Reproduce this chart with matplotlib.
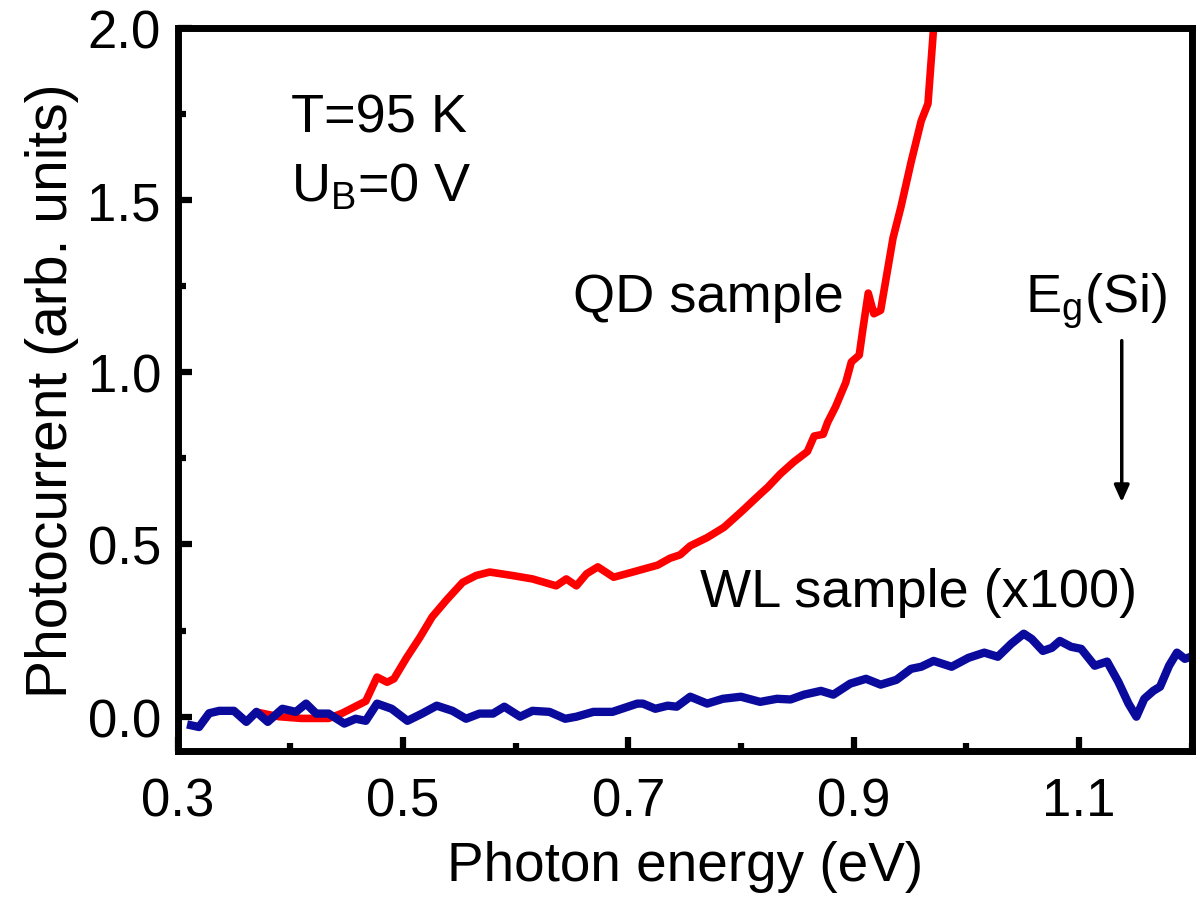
import matplotlib
matplotlib.use('Agg')
import matplotlib.pyplot as plt

plt.rcParams['font.family'] = ['Liberation Sans', 'DejaVu Sans']
plt.rcParams['mathtext.default'] = 'regular'

# QD sample photocurrent (red)
qd_energy = [0.375, 0.39, 0.41, 0.434, 0.446, 0.458, 0.467, 0.477, 0.486, 0.492,
             0.503, 0.515, 0.526, 0.539, 0.553, 0.565, 0.577, 0.597, 0.615, 0.636,
             0.645, 0.654, 0.663, 0.673, 0.687, 0.704, 0.726, 0.737, 0.746, 0.755,
             0.77, 0.785, 0.80, 0.815, 0.824, 0.835, 0.847, 0.859, 0.865, 0.873,
             0.877, 0.884, 0.893, 0.898, 0.905, 0.908, 0.913, 0.918, 0.924, 0.935,
             0.942, 0.951, 0.96, 0.966, 0.971]
qd_current = [0.01, 0.0, -0.005, -0.005, 0.01, 0.03, 0.045, 0.115, 0.10, 0.11,
              0.17, 0.23, 0.29, 0.34, 0.39, 0.41, 0.42, 0.41, 0.40, 0.38,
              0.40, 0.38, 0.415, 0.435, 0.405, 0.42, 0.44, 0.46, 0.47, 0.496,
              0.52, 0.55, 0.594, 0.64, 0.667, 0.705, 0.74, 0.77, 0.815, 0.82,
              0.855, 0.90, 0.97, 1.03, 1.05, 1.12, 1.23, 1.17, 1.18, 1.39,
              1.48, 1.61, 1.73, 1.78, 2.0]

# WL sample photocurrent x100 (blue)
wl_energy = [0.312, 0.319, 0.328, 0.337, 0.35, 0.361, 0.37, 0.38, 0.393, 0.405,
             0.414, 0.423, 0.434, 0.448, 0.458, 0.467, 0.477, 0.49, 0.504, 0.517,
             0.53, 0.544, 0.556, 0.568, 0.58, 0.59, 0.604, 0.615, 0.63, 0.644,
             0.654, 0.669, 0.686, 0.708, 0.713, 0.724, 0.735, 0.743, 0.755, 0.77,
             0.784, 0.80, 0.817, 0.832, 0.844, 0.856, 0.871, 0.882, 0.897, 0.911,
             0.924, 0.938, 0.951, 0.96, 0.971, 0.987, 1.002, 1.016, 1.028, 1.04,
             1.051, 1.058, 1.068, 1.076, 1.083, 1.093, 1.102, 1.114, 1.125, 1.135,
             1.144, 1.151, 1.158, 1.166, 1.172, 1.18, 1.187, 1.194, 1.202]
wl_current = [-0.025, -0.03, 0.01, 0.017, 0.017, -0.015, 0.014, -0.015, 0.023, 0.014,
              0.038, 0.009, 0.009, -0.02, -0.006, -0.012, 0.038, 0.023, -0.012, 0.009,
              0.032, 0.017, -0.006, 0.009, 0.009, 0.029, 0.0, 0.017, 0.014, -0.006,
              0.0, 0.014, 0.014, 0.038, 0.038, 0.023, 0.032, 0.029, 0.058, 0.038,
              0.052, 0.058, 0.043, 0.052, 0.05, 0.064, 0.075, 0.064, 0.096, 0.11,
              0.093, 0.107, 0.139, 0.145, 0.162, 0.145, 0.171, 0.186, 0.174, 0.212,
              0.241, 0.226, 0.191, 0.2, 0.22, 0.203, 0.197, 0.148, 0.16, 0.101,
              0.038, 0.0, 0.052, 0.075, 0.087, 0.148, 0.186, 0.168, 0.177]

x_major = [0.3, 0.5, 0.7, 0.9, 1.1]
x_minor = [0.4, 0.6, 0.8, 1.0, 1.2]
y_major = [0.0, 0.5, 1.0, 1.5, 2.0]
y_minor = [0.25, 0.75, 1.25, 1.75]

fig = plt.figure(figsize=(12, 9.04), dpi=100)
ax = fig.add_axes([0.148, 0.168, 0.845, 0.8])

ax.plot(qd_energy, qd_current, color='#ff0000', lw=5.5, solid_joinstyle='round')
ax.plot(wl_energy, wl_current, color='#0a0a9c', lw=6.0, solid_joinstyle='round')

ax.set_xlim(0.3, 1.2)
ax.set_ylim(-0.1, 2.0)
ax.set_xticks(x_major)
ax.set_xticks(x_minor, minor=True)
ax.set_xticklabels(['0.3', '0.5', '0.7', '0.9', '1.1'])
ax.set_yticks(y_major)
ax.set_yticks(y_minor, minor=True)
ax.set_yticklabels(['0.0', '0.5', '1.0', '1.5', '2.0'])
ax.tick_params(which='both', direction='in', width=4.5, labelsize=38)
ax.tick_params(which='major', length=10)
ax.tick_params(which='minor', length=6)
ax.tick_params(axis='x', pad=18)
ax.tick_params(axis='y', pad=12)
for s in ax.spines.values():
    s.set_linewidth(5)

ax.set_xlabel('Photon energy (eV)', fontsize=39.5, labelpad=10)
ax.set_ylabel('Photocurrent (arb. units)', fontsize=41, labelpad=6)

ax.text(0.401, 1.70, 'T=95 K', fontsize=39)
ax.text(0.401, 1.50, 'U$_B$=0 V', fontsize=39)
ax.text(0.651, 1.177, 'QD sample', fontsize=39)
ax.text(0.764, 0.32, 'WL sample (x100)', fontsize=39)
ax.text(1.115, 1.177, 'E$_g$(Si)', fontsize=39, ha='center')
ax.annotate('', xy=(1.138, 0.615), xytext=(1.138, 1.10),
            arrowprops=dict(arrowstyle='-|>,head_length=1.0,head_width=0.45',
                            color='black', lw=2.5))

fig.savefig('out.png', dpi=100)
plt.close()
